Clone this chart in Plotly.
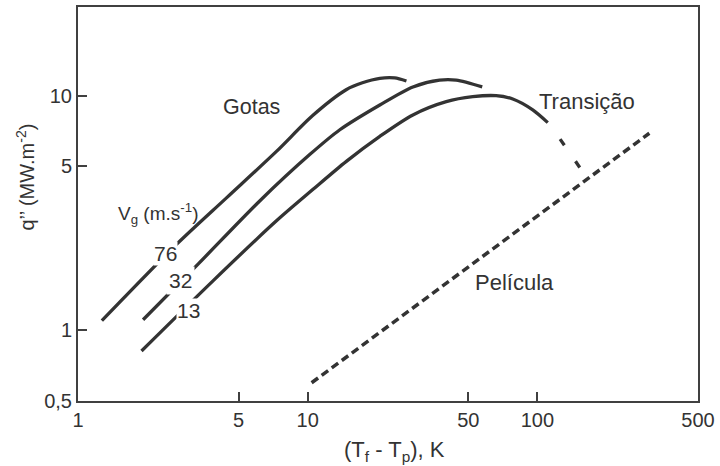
import math
import plotly.graph_objects as go

# Heat flux vs. wall superheat, log-log
# Droplet regime curves for three gas velocities (m/s)
dT_76 = [1.27, 2.69, 4.43, 7.31, 10.51, 14.7, 17.3, 20.6, 23.9, 26.9]
q_76 = [1.10, 2.33, 3.67, 5.79, 8.23, 10.6, 11.35, 11.85, 11.9, 11.55]

dT_32 = [1.92, 3.34, 6.18, 10.2, 13.8, 20.6, 28.7, 37.5, 44.3, 57.5]
q_32 = [1.11, 1.92, 3.56, 5.61, 7.16, 9.13, 10.9, 11.65, 11.65, 10.9]

dT_13 = [1.89, 3.88, 7.31, 10.55, 14.73, 20.6, 28.7, 40.1, 52.3, 66.1, 78.1, 95.4, 110.9]
q_13 = [0.817, 1.63, 2.93, 3.99, 5.25, 6.71, 8.28, 9.43, 9.90, 10.0, 9.68, 8.70, 7.68]

# Transition branch (dashed) and film boiling line
dT_trans = [125.5, 153.4]
q_trans = [6.53, 4.92]

dT_film = [10.4, 307.0]
q_film = [0.598, 6.92]

x_ticks = [1, 5, 10, 50, 100, 500]
x_ticktext = ["1", "5", "10", "50", "100", "500"]
y_ticks = [0.5, 1, 5, 10]
y_ticktext = ["0,5", "1", "5", "10"]

INK = "#333333"
FRAME = "#404040"
FONT = "Liberation Sans, Arial, sans-serif"

fig = go.Figure()

for xs, ys in [(dT_76, q_76), (dT_32, q_32), (dT_13, q_13)]:
    fig.add_trace(go.Scatter(
        x=xs, y=ys, mode="lines",
        line=dict(color=INK, width=3.3, shape="spline", smoothing=0.8),
        showlegend=False, hoverinfo="skip",
    ))

fig.add_trace(go.Scatter(
    x=dT_trans, y=q_trans, mode="lines",
    line=dict(color=INK, width=3.3, dash="7.5px,19.5px"),
    showlegend=False, hoverinfo="skip",
))

fig.add_trace(go.Scatter(
    x=dT_film, y=q_film, mode="lines",
    line=dict(color=INK, width=3.5, dash="8px,4.5px"),
    showlegend=False, hoverinfo="skip",
))


def lab(text, x, y, size=21.5, bg=None, pad=1):
    return dict(
        text=text, x=math.log10(x), y=math.log10(y), xref="x", yref="y",
        showarrow=False, font=dict(family=FONT, size=size, color=INK),
        bgcolor=bg if bg else "rgba(0,0,0,0)", borderpad=pad,
        xanchor="center", yanchor="middle",
    )


annotations = [
    lab("Gotas", 5.71, 8.98),
    lab("Transição", 164, 9.44, size=22),
    lab("Película", 79.4, 1.6, size=22),
    lab("V<sub>g</sub> (m.s<sup>-1</sup>)", 2.23, 3.16, size=19),
    lab("76", 2.41, 2.12, size=21, bg="white", pad=0),
    lab("32", 2.78, 1.63, size=21, bg="white", pad=2),
    lab("13", 3.02, 1.215, size=21, bg="white", pad=0),
    dict(
        text="q’’ (MW.m<sup>-2</sup>)", x=-0.085, y=0.568, xref="paper", yref="paper",
        textangle=-90, showarrow=False, xanchor="center", yanchor="middle",
        font=dict(family=FONT, size=20, color=INK),
    ),
    dict(
        text="(T<sub>f</sub> - T<sub>p</sub>), K", x=0.51, y=-0.126, xref="paper", yref="paper",
        showarrow=False, xanchor="center", yanchor="middle",
        font=dict(family=FONT, size=22, color=INK),
    ),
]

fig.update_layout(
    width=720, height=466,
    margin=dict(l=78, r=21, t=5, b=65),
    paper_bgcolor="white", plot_bgcolor="white",
    annotations=annotations,
    xaxis=dict(
        type="log", range=[0, math.log10(500)],
        tickmode="array", tickvals=x_ticks, ticktext=x_ticktext,
        ticks="inside", ticklen=9, tickwidth=1.5, tickcolor=FRAME,
        showline=True, mirror=True, linecolor=FRAME, linewidth=2,
        showgrid=False, zeroline=False,
        tickfont=dict(family=FONT, size=20, color=INK),
    ),
    yaxis=dict(
        type="log", range=[math.log10(0.5), 1.378],
        tickmode="array", tickvals=y_ticks, ticktext=y_ticktext,
        ticks="inside", ticklen=9, tickwidth=1.5, tickcolor=FRAME,
        showline=True, mirror=True, linecolor=FRAME, linewidth=2,
        showgrid=False, zeroline=False,
        tickfont=dict(family=FONT, size=20, color=INK),
    ),
)

fig.write_html("out.html")
